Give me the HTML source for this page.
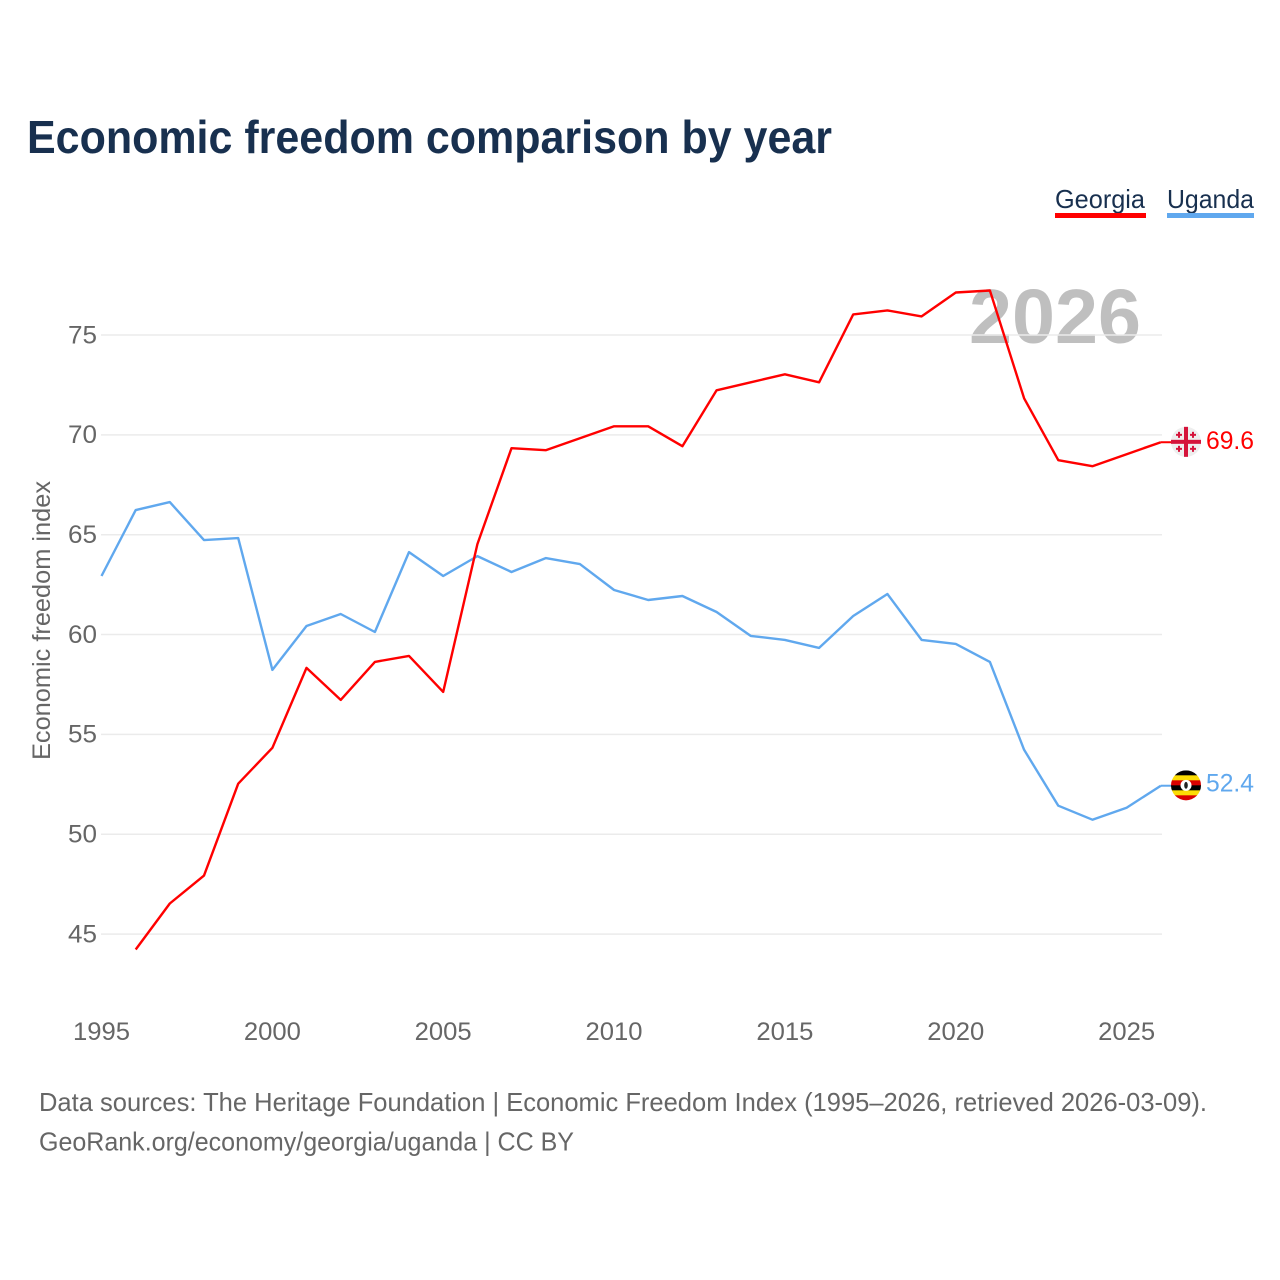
<!DOCTYPE html>
<html lang="en">
<head>
<meta charset="utf-8">
<title>Economic freedom comparison by year</title>
<style>
html,body{margin:0;padding:0;background:#fff}
svg{display:block}
text{font-family:"Liberation Sans",sans-serif}
</style>
</head>
<body>
<svg id="chart" xmlns="http://www.w3.org/2000/svg" width="1280" height="1280" viewBox="0 0 1280 1280">
  <rect width="1280" height="1280" fill="#fff"/>
  <text x="27" y="153" font-size="46" font-weight="700" fill="#18304f" textLength="805" lengthAdjust="spacingAndGlyphs">Economic freedom comparison by year</text>
  <g>
    <text x="1055" y="208" font-size="26" fill="#18304f" textLength="90" lengthAdjust="spacingAndGlyphs">Georgia</text>
    <rect x="1055" y="213" width="91" height="5" fill="#ff0000"/>
  </g>
  <g>
    <text x="1167" y="208" font-size="26" fill="#18304f" textLength="87" lengthAdjust="spacingAndGlyphs">Uganda</text>
    <rect x="1167" y="213" width="87" height="5" fill="#60a8ee"/>
  </g>
  <text x="969" y="343" font-size="77" font-weight="700" fill="#bfbfbf" textLength="172" lengthAdjust="spacingAndGlyphs">2026</text>
  <g id="grid"></g>
  <g id="ytick-labels"></g>
  <g id="xtick-labels"></g>
  <text transform="translate(50,760) rotate(-90)" font-size="25" fill="#666" textLength="279" lengthAdjust="spacingAndGlyphs">Economic freedom index</text>
  <g id="series"></g>
  <g id="ends"></g>
  <text x="39" y="1111" font-size="26" fill="#666" textLength="1168" lengthAdjust="spacingAndGlyphs">Data sources: The Heritage Foundation | Economic Freedom Index (1995–2026, retrieved 2026-03-09).</text>
  <text x="39" y="1150.5" font-size="26" fill="#666" textLength="535" lengthAdjust="spacingAndGlyphs">GeoRank.org/economy/georgia/uganda | CC BY</text>
</svg>
<script>
const years = [1995,1996,1997,1998,1999,2000,2001,2002,2003,2004,2005,2006,2007,2008,2009,2010,2011,2012,2013,2014,2015,2016,2017,2018,2019,2020,2021,2022,2023,2024,2025,2026];
const georgiaValues = [null,44.2,46.5,47.9,52.5,54.3,58.3,56.7,58.6,58.9,57.1,64.5,69.3,69.2,69.8,70.4,70.4,69.4,72.2,72.6,73.0,72.6,76.0,76.2,75.9,77.1,77.2,71.8,68.7,68.4,69.0,69.6];
const ugandaValues = [62.9,66.2,66.6,64.7,64.8,58.2,60.4,61.0,60.1,64.1,62.9,63.9,63.1,63.8,63.5,62.2,61.7,61.9,61.1,59.9,59.7,59.3,60.9,62.0,59.7,59.5,58.6,54.2,51.4,50.7,51.3,52.4];
const yTicks = [45,50,55,60,65,70,75];
const xTicks = [1995,2000,2005,2010,2015,2020,2025];

const NS = 'http://www.w3.org/2000/svg';
const xScale = function (yr) { return 101.5 + (yr - 1995) * 34.17; };
const yScale = function (v) { return 335 + (75 - v) * 19.97; };
const LINE_SHIFT = -0.6;
const lineY = function (v) { return yScale(v) + LINE_SHIFT; };

function mk(tag, attrs, parent, txt) {
  const el = document.createElementNS(NS, tag);
  for (const k in attrs) el.setAttribute(k, attrs[k]);
  if (txt !== undefined) el.textContent = txt;
  parent.appendChild(el);
  return el;
}

const grid = document.getElementById('grid');
const yLab = document.getElementById('ytick-labels');
yTicks.forEach(function (t) {
  const line = mk('line', {x1: 101, x2: 1162, y1: yScale(t), y2: yScale(t), stroke: '#ebebeb', 'stroke-width': 1.5}, grid);
  
  
  const lab = mk('text', {x: 97, y: yScale(t) + 8.3, 'font-size': 25, fill: '#666', 'text-anchor': 'end', textLength: 29, lengthAdjust: 'spacingAndGlyphs'}, yLab, String(t));
  
  
});

const xLab = document.getElementById('xtick-labels');
xTicks.forEach(function (t) {
  const lab = mk('text', {x: xScale(t), y: 1040, 'font-size': 25, fill: '#666', 'text-anchor': 'middle', textLength: 57, lengthAdjust: 'spacingAndGlyphs'}, xLab, String(t));
  
  
});

function pathFor(values) {
  let d = '';
  values.forEach(function (v, i) {
    if (v === null) return;
    d += (d ? 'L' : 'M') + xScale(years[i]).toFixed(1) + ' ' + lineY(v).toFixed(1);
  });
  return d;
}

const seriesG = document.getElementById('series');
const ugandaLine = mk('path', {d: pathFor(ugandaValues), fill: 'none', stroke: '#60a8ee', 'stroke-width': 2.4, 'stroke-linejoin': 'round'}, seriesG);


const georgiaLine = mk('path', {d: pathFor(georgiaValues), fill: 'none', stroke: '#ff0000', 'stroke-width': 2.4, 'stroke-linejoin': 'round'}, seriesG);



const ends = document.getElementById('ends');
const flagX = 1186;
const lastX = xScale(years[years.length - 1]);

// Georgia end marker
const gV = georgiaValues[georgiaValues.length - 1];
const gY = yScale(gV) - 1;
const gLeader = mk('line', {x1: lastX, x2: flagX - 14, y1: lineY(gV), y2: lineY(gV), stroke: '#ff0000', 'stroke-width': 2}, ends);


const gF = mk('g', {transform: 'translate(' + flagX + ',' + gY + ')'}, ends);


mk('circle', {r: 15, fill: '#eeeeee'}, gF);
mk('rect', {x: -15, y: -2, width: 30, height: 4, fill: '#d5133a'}, gF);
mk('rect', {x: -2, y: -15, width: 4, height: 30, fill: '#d5133a'}, gF);
[[-7, -7], [7, -7], [-7, 7], [7, 7]].forEach(function (p) {
  mk('rect', {x: p[0] - 3, y: p[1] - 1, width: 6, height: 2, fill: '#d5133a'}, gF);
  mk('rect', {x: p[0] - 1, y: p[1] - 3, width: 2, height: 6, fill: '#d5133a'}, gF);
});
const gLab = mk('text', {x: 1206, y: gY + 7, 'font-size': 25, fill: '#ff0000', textLength: 48, lengthAdjust: 'spacingAndGlyphs'}, ends, gV.toFixed(1));



// Uganda end marker
const uV = ugandaValues[ugandaValues.length - 1];
const uY = yScale(uV) - 1;
const uLeader = mk('line', {x1: lastX, x2: flagX - 14, y1: lineY(uV), y2: lineY(uV), stroke: '#60a8ee', 'stroke-width': 2}, ends);


const uF = mk('g', {transform: 'translate(' + flagX + ',' + uY + ')'}, ends);


const clipDef = mk('clipPath', {id: 'ug-clip'}, uF);
mk('circle', {r: 15}, clipDef);
const bands = mk('g', {'clip-path': 'url(#ug-clip)'}, uF);
['#000000', '#fcdc04', '#d90000', '#000000', '#fcdc04', '#d90000'].forEach(function (c, i) {
  mk('rect', {x: -15, y: -15 + i * 5, width: 30, height: 5.2, fill: c}, bands);
});
mk('circle', {r: 5.5, fill: '#ffffff'}, uF);
mk('ellipse', {rx: 1.8, ry: 3.4, fill: '#222222'}, uF);
const uLab = mk('text', {x: 1206, y: uY + 6, 'font-size': 25, fill: '#60a8ee', textLength: 48, lengthAdjust: 'spacingAndGlyphs'}, ends, uV.toFixed(1));


</script>
</body>
</html>
